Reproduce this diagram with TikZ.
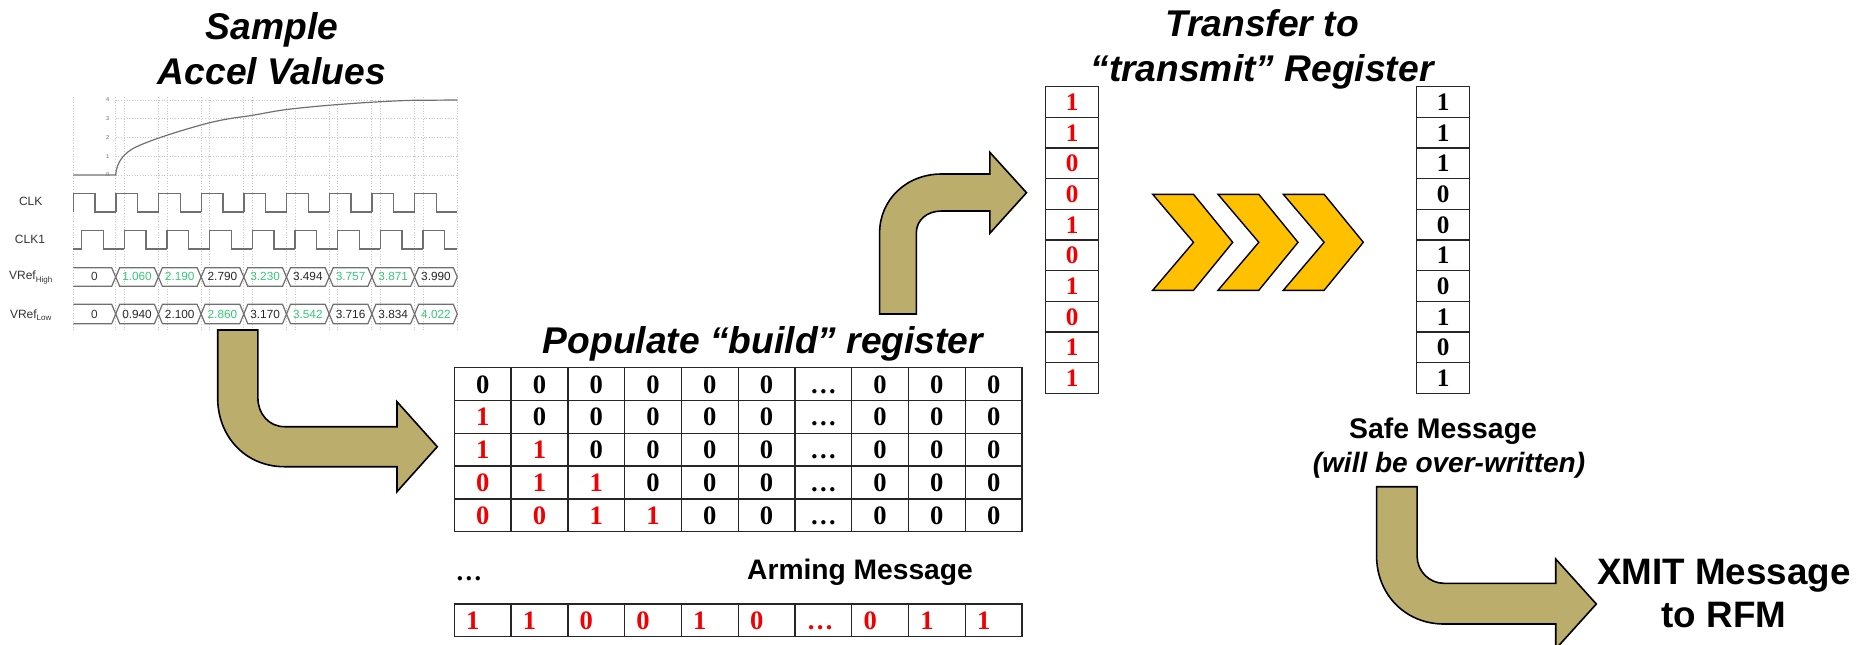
\documentclass[tikz,border=0pt]{standalone}
\usepackage{fontspec}
\setmainfont{Liberation Sans}
\newfontfamily\regfont{Liberation Serif}[BoldFont={Liberation Serif Bold}]
\definecolor{armfill}{HTML}{BBAD6C}
\definecolor{chevfill}{HTML}{FFC000}
\definecolor{okgreen}{HTML}{35C878}
\definecolor{reddigit}{HTML}{F00000}
\definecolor{tracegray}{HTML}{707070}
\tikzset{
  px/.style={x=0.5pt,y=-0.5pt},
  title/.style={font=\fontsize{18.6}{22.5}\selectfont\bfseries\itshape,inner sep=0pt,align=center},
  subtitle/.style={font=\fontsize{14.2}{16}\selectfont\bfseries,inner sep=0pt,align=center},
  xmit/.style={font=\fontsize{18.4}{21.5}\selectfont\bfseries,inner sep=0pt,align=center},
  bigarrow/.style={fill=armfill,draw=black,line width=0.8pt,line join=miter},
  chev/.style={fill=chevfill,draw=black,line width=0.7pt,line join=miter},
  gridcell/.style={draw=black!85,line width=0.7pt,minimum width=28.4pt,minimum height=16.4pt,inner sep=0pt,
     text height=9pt,text depth=0pt,font=\regfont\fontsize{13.3}{14}\selectfont\bfseries},
  regcell/.style={draw=black!85,line width=0.7pt,minimum width=26.5pt,minimum height=15.33pt,inner sep=0pt,
     text height=8.5pt,text depth=0pt,font=\regfont\fontsize{12.6}{14}\selectfont\bfseries},
  msgcell/.style={draw=black!85,line width=0.7pt,minimum width=28.4pt,minimum height=16.4pt,inner sep=0pt},
  msgtext/.style={anchor=base west,inner sep=0pt,text=reddigit,font=\regfont\fontsize{13.3}{14}\selectfont\bfseries},
  griddot/.style={draw=black!22,line width=0.35pt,densely dotted},
  trace/.style={draw=tracegray,line width=0.6pt,line join=miter},
  busline/.style={draw=tracegray,line width=0.6pt,line join=miter},
  siglabel/.style={font=\fontsize{6}{7}\selectfont,text=black!80,inner sep=0pt},
  buslabel/.style={font=\fontsize{5.9}{7}\selectfont,inner sep=0pt},
  ticklabel/.style={font=\fontsize{2.8}{3}\selectfont,text=black!60,inner sep=0pt}
}
\newcommand{\subtxt}[1]{\raisebox{-1.2pt}{\fontsize{4}{4}\selectfont #1}}
\begin{document}
\begin{tikzpicture}[px]
\clip (0,0) rectangle (1858,644);
% ---------- titles
\node[title] (tSample) at (272,49) {Sample\\Accel Values};
\node[title] (tPop) at (763,344) {Populate “build” register};
\node[title] (tTrans) at (1262,49) {Transfer to\\“transmit” Register};
% ---------- timing chart grid
\foreach \k in {0,...,8}{
  \pgfmathsetmacro\ga{115.7+42.67*\k}
  \pgfmathsetmacro\gb{124.2+42.67*\k}
  \draw[griddot] (\ga,97) -- (\ga,330);
  \ifnum\k<8 \draw[griddot] (\gb,97) -- (\gb,330); \fi
}
\draw[griddot] (73.3,97) -- (73.3,330);
\foreach \v in {0,...,4}{
  \pgfmathsetmacro\yy{175-18.75*\v}
  \draw[griddot] (115.7,\yy) -- (457.3,\yy);
  \node[ticklabel] (tick\v) at (107.7,\yy) {\v};
}
% analog curve
\draw[trace] (73.3,175) -- (115.7,175)
  .. controls (116.5,163) and (123,153) .. (137,146.5)
  .. controls (145,142.8) and (165,135) .. (201,125)
  .. controls (216,120.8) and (230,118.3) .. (243,116.7)
  .. controls (258,114.8) and (272,111.3) .. (286.7,109.5)
  .. controls (301,107.8) and (316,106.3) .. (330,105.2)
  .. controls (345,104) and (358,103) .. (371.7,102.2)
  .. controls (386,101.4) and (400,100.6) .. (414,100.3)
  -- (457.3,100);
% clocks
\foreach \k in {0,...,8}{
  \pgfmathsetmacro\ra{73.3+42.67*\k}
  \pgfmathsetmacro\fa{95+42.67*\k}
  \pgfmathsetmacro\na{min(\ra+42.67,457.3)}
  \draw[trace] (\ra,212) -- (\ra,193.3) -- (\fa,193.3) -- (\fa,212) -- (\na,212);
  \pgfmathsetmacro\rb{81.7+42.67*\k}
  \pgfmathsetmacro\fb{103.3+42.67*\k}
  \pgfmathsetmacro\nb{min(\rb+42.67,457.3)}
  \draw[trace] (\rb,249) -- (\rb,230.7) -- (\fb,230.7) -- (\fb,249) -- (\nb,249);
}
\draw[trace] (73.3,249) -- (81.7,249);
\node[siglabel] (lClk) at (30.7,201.7) {CLK};
\node[siglabel] (lClkA) at (30,239.3) {CLK1};
\node[siglabel] (lHigh) at (30.7,277.5) {VRef\subtxt{High}};
\node[siglabel] (lLow) at (30.7,315) {VRef\subtxt{Low}};
% buses
\draw[busline] (73.3,267.7) -- (111.7,267.7) -- (115.7,277) -- (111.7,286.3) -- (73.3,286.3);
\draw[busline] (73.3,304.3) -- (111.7,304.3) -- (115.7,314) -- (111.7,323.7) -- (73.3,323.7);
\node[buslabel,text=black!80] (hi0) at (94.3,276.5) {0};
\node[buslabel,text=black!80] (lo0) at (94.3,314) {0};
\foreach \k/\v/\c in {0/1.060/okgreen,1/2.190/okgreen,2/2.790/black!85,3/3.230/okgreen,4/3.494/black!85,5/3.757/okgreen,6/3.871/okgreen,7/3.990/black!85}{
  \pgfmathsetmacro\xl{115.7+42.7*\k}
  \pgfmathsetmacro\xr{\xl+42.7}
  \draw[busline] (\xl,277) -- (\xl+4,267.7) -- (\xr-4,267.7) -- (\xr,277) -- (\xr-4,286.3) -- (\xl+4,286.3) -- cycle;
  \node[buslabel,text=\c] (hiv\k) at ({(\xl+\xr)/2},276.5) {\v};
}
\foreach \k/\v/\c in {0/0.940/black!85,1/2.100/black!85,2/2.860/okgreen,3/3.170/black!85,4/3.542/okgreen,5/3.716/black!85,6/3.834/black!85,7/4.022/okgreen}{
  \pgfmathsetmacro\xl{115.7+42.7*\k}
  \pgfmathsetmacro\xr{\xl+42.7}
  \draw[busline] (\xl,314) -- (\xl+4,304.3) -- (\xr-4,304.3) -- (\xr,314) -- (\xr-4,323.7) -- (\xl+4,323.7) -- cycle;
  \node[buslabel,text=\c] (lov\k) at ({(\xl+\xr)/2},314) {\v};
}
% ---------- arrow 1
\draw[bigarrow] (217.7,330) -- (257.9,330) -- (257.9,398)
  .. controls (257.9,414) and (269,426.7) .. (284.6,426.7)
  -- (397,426.7) -- (397,401.7) -- (437.3,446.7) -- (397,491.7) -- (397,466.7) -- (284.6,466.7)
  .. controls (245,466.7) and (217.7,436) .. (217.7,398) -- cycle;
% ---------- build register
\foreach \r/\row in {0/{0,0,0,0,0,0,…,0,0,0},1/{1,0,0,0,0,0,…,0,0,0},2/{1,1,0,0,0,0,…,0,0,0},3/{0,1,1,0,0,0,…,0,0,0},4/{0,0,1,1,0,0,…,0,0,0}}{
  \foreach \v [count=\c from 0] in \row {
    \pgfmathsetmacro\cx{482.8+56.76*\c}
    \pgfmathsetmacro\cy{384+32.8*\r}
    \ifnum\c<\r
      \node[gridcell,text=reddigit] (g\r-\c) at (\cx,\cy) {\v};
    \else
      \node[gridcell,text=black] (g\r-\c) at (\cx,\cy) {\v};
    \fi
  }
}
\node[font=\regfont\fontsize{13.3}{14}\selectfont\bfseries,inner sep=0pt,anchor=base] (ellip) at (469,580) {…};
\node[subtitle,font=\fontsize{14.1}{16}\selectfont\bfseries] (lArm) at (860,572) {Arming Message};
\foreach \v [count=\c from 0] in {1,1,0,0,1,0,…,0,1,1}{
  \pgfmathsetmacro\cx{482.8+56.76*\c}
  \pgfmathsetmacro\tx{454.4+56.76*\c+11.4}
  \node[msgcell] (m\c) at (\cx,620.3) {};
  \node[msgtext] (mt\c) at (\tx,629) {\v};
}
% ---------- arrow 2
\draw[bigarrow] (879.6,314) -- (916.3,314) -- (916.3,233)
  .. controls (916.3,220) and (927,211) .. (941.6,211)
  -- (989.8,211) -- (989.8,233.3) -- (1026.5,192.7) -- (989.8,152.3) -- (989.8,174) -- (941.6,174)
  .. controls (906,174) and (879.6,200) .. (879.6,233) -- cycle;
% ---------- registers
\foreach \v [count=\c from 0] in {1,1,0,0,1,0,1,0,1,1}{
  \pgfmathsetmacro\cy{102+30.67*\c}
  \node[regcell,text=reddigit] (a\c) at (1072.2,\cy) {\v};
}
\foreach \v [count=\c from 0] in {1,1,1,0,0,1,0,1,0,1}{
  \pgfmathsetmacro\cy{102+30.67*\c}
  \node[regcell,text=black] (b\c) at (1443.2,\cy) {\v};
}
% ---------- chevrons
\foreach \d in {0,65.3,130.6}{
  \draw[chev] (1152.7+\d,194.3) -- (1193.5+\d,194.3) -- (1232.7+\d,242.3) -- (1193.5+\d,290.3) -- (1152.7+\d,290.3) -- (1193.5+\d,242.3) -- cycle;
}
% ---------- safe message
\node[subtitle] (lSafe) at (1443,431) {Safe Message};
\node[subtitle,font=\fontsize{14}{16}\selectfont\bfseries\itshape] (lWill) at (1449,465) {(will be over-written)};
% ---------- arrow 3
\draw[bigarrow] (1376.6,486.7) -- (1417.1,486.7) -- (1417.1,556)
  .. controls (1417.1,571) and (1429,583.3) .. (1444,583.3)
  -- (1555.7,583.3) -- (1555.7,559) -- (1596.3,604) -- (1555.7,649) -- (1555.7,624) -- (1444,624)
  .. controls (1405,624) and (1376.6,594) .. (1376.6,556) -- cycle;
\node[xmit] (lXmit) at (1724,594) {XMIT Message\\to RFM};
\end{tikzpicture}
\end{document}
